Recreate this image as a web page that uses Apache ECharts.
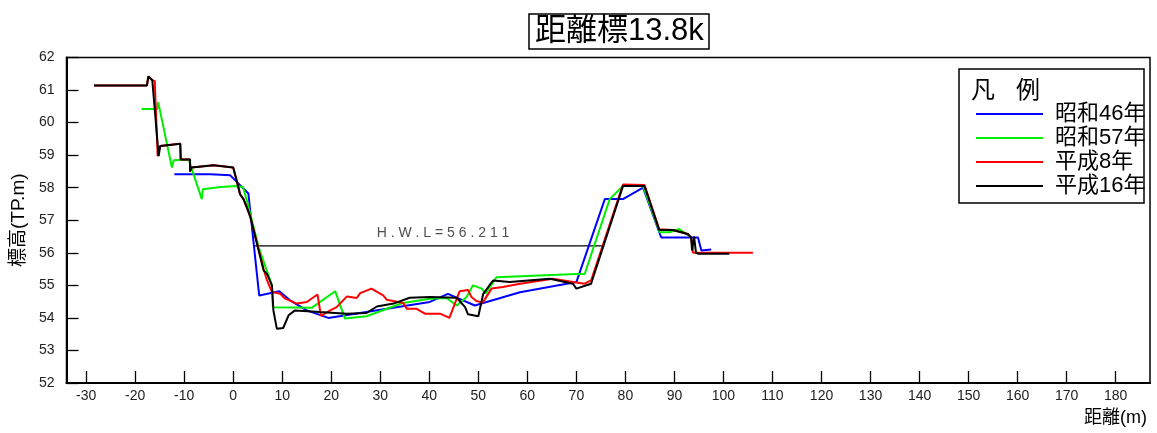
<!DOCTYPE html>
<html><head><meta charset="utf-8">
<script src="https://cdn.jsdelivr.net/npm/echarts@6/dist/echarts.min.js"></script>
<style>html,body{margin:0;padding:0;background:#fff}#c{width:1157px;height:433px}</style>
</head><body><div id="c"></div>
<script>
const seriesNames = ['昭和46年', '昭和57年', '平成8年', '平成16年'];
const seriesColors = ['#0000ff', '#00ee00', '#ff0000', '#000000'];
const xTicks = [-30,-20,-10,0,10,20,30,40,50,60,70,80,90,100,110,120,130,140,150,160,170,180];
const hwlValue = 56.211;
const hwlRange = [4.1, 75.7];
const hwlLabelX = 42.8;

const s46 = [[-12,58.41],[-4.7,58.41],[-0.6,58.38],[3.1,57.82],[5.3,54.69],[9.4,54.82],[11.6,54.54],[15,54.23],[19.4,54.0],[40.1,54.49],[43.8,54.74],[49.3,54.38],[51,54.46],[58.5,54.79],[70,55.1],[75.8,57.65],[79.5,57.65],[83.6,58.0],[87.3,56.47],[94.8,56.47],[95.5,56.07],[97.5,56.1]];
const s57 = [[-18.7,60.42],[-15.5,60.42],[-15.3,60.63],[-12.5,58.62],[-12.15,58.84],[-9.1,58.87],[-6.4,57.65],[-6.2,57.95],[-2.6,58.02],[0.75,58.05],[2.0,58.02],[2.8,57.6],[5.2,56.17],[7.9,55.0],[8.1,54.33],[16,54.31],[20.8,54.82],[22.8,53.98],[27.2,54.05],[34.4,54.45],[40.1,54.59],[43.5,54.61],[45.6,54.38],[47.6,54.64],[48.9,55.0],[50.7,54.9],[51.5,54.75],[53.7,55.25],[70,55.35],[71.7,55.35],[76.8,57.65],[79.5,58.05],[83.6,58.05],[87,56.63],[89,56.63],[91,56.73],[93.4,56.47]];
const sH8 = [[-28.4,61.14],[-17.6,61.14],[-17.3,61.42],[-16.9,61.38],[-16.5,61.3],[-16.0,61.28],[-15.4,58.97],[-14.9,59.28],[-10.8,59.35],[-10.7,58.87],[-8.8,58.87],[-8.8,58.5],[-8.5,58.62],[-4,58.69],[0,58.62],[0.75,58.2],[1.4,57.8],[2.1,57.65],[2.8,57.39],[3.5,57.1],[6.2,55.5],[6.9,55.15],[7.9,54.8],[9.6,54.74],[10.6,54.59],[13,54.44],[15,54.49],[17.2,54.72],[17.9,54.06],[19.8,54.23],[21.1,54.33],[23.2,54.66],[25.2,54.61],[25.9,54.76],[28.2,54.9],[30.6,54.69],[31.3,54.56],[34.7,54.46],[35.4,54.28],[37.4,54.28],[39.1,54.13],[42.2,54.13],[44.1,54.0],[46.2,54.82],[47.9,54.86],[48.6,54.64],[49.6,54.52],[50.9,54.47],[52.7,54.9],[55,54.95],[58.5,55.05],[65.2,55.2],[69.3,55.1],[71.7,55.05],[73,55.15],[79.5,58.1],[83.9,58.08],[86.9,56.72],[89.7,56.7],[92.7,56.58],[93.4,56.47],[93.8,56.0],[95,56.0],[106,56.0]];
const sH16 = [[-28.4,61.14],[-17.6,61.14],[-17.3,61.42],[-16.9,61.38],[-16.5,61.3],[-16.1,61.28],[-15.2,58.97],[-14.9,59.28],[-10.8,59.35],[-10.7,58.87],[-8.8,58.87],[-8.8,58.5],[-8.5,58.62],[-4,58.69],[0,58.62],[0.75,58.2],[1.4,57.8],[2.1,57.65],[2.8,57.39],[3.5,57.1],[6.2,55.46],[6.9,55.35],[7.9,55.0],[8.2,54.23],[8.9,53.67],[10.2,53.69],[11.3,54.08],[12.6,54.23],[17.7,54.18],[23.2,54.13],[27.2,54.15],[29.3,54.35],[32.7,54.44],[36,54.62],[40.1,54.64],[45.6,54.62],[47.3,54.33],[47.9,54.11],[50,54.05],[51,54.74],[53,55.15],[56.4,55.1],[64.6,55.2],[69.3,55.05],[70,54.9],[73,55.05],[79.5,58.05],[83.9,58.05],[86.9,56.7],[89.7,56.7],[92.7,56.58],[93.4,56.47],[93.6,56.07],[94.0,56.5],[94.4,56.0],[94.9,55.97],[101.2,55.97]];
const allData = [s46, s57, sH8, sH16];

const FONT = '"Liberation Sans", "Noto Sans CJK JP", sans-serif';
const chart = echarts.init(document.getElementById('c'), null, {renderer: 'canvas'});

const lineSeries = allData.map((d, i) => ({
  name: seriesNames[i], type: 'line', data: d, symbol: 'none', silent: true,
  lineStyle: {color: seriesColors[i], width: 2}, itemStyle: {color: seriesColors[i]}, z: 3 + i
}));

lineSeries.unshift({
  name: 'HWL', type: 'line', symbol: 'none', silent: true, z: 2,
  lineStyle: {color: '#000', width: 1.3},
  data: [[hwlRange[0], hwlValue], [hwlRange[1], hwlValue]]
});
lineSeries.push({
  name: 'HWLlabel', type: 'scatter', silent: true, z: 10,
  symbol: 'circle', symbolSize: 1, itemStyle: {color: 'rgba(0,0,0,0)'},
  data: [[hwlLabelX, hwlValue]],
  label: {show: true, position: 'top', distance: 5,
    formatter: 'H . W . L = 5 6 . 2 1 1', fontSize: 14, color: '#222', fontFamily: FONT}
});

chart.setOption({
  animation: false,
  backgroundColor: '#fff',
  title: {
    text: '距離標13.8k', left: 529, top: 14,
    borderColor: '#000', borderWidth: 1.5, padding: [2, 5, 2, 6],
    textStyle: {fontSize: 31, fontWeight: 'normal', color: '#000', fontFamily: FONT}
  },
  grid: {left: 66.5, right: 7, top: 57.5, bottom: 50, show: true, borderColor: '#000', borderWidth: 1.5, backgroundColor: 'transparent'},
  legend: {
    data: seriesNames, orient: 'vertical', left: 971, top: 98,
    icon: 'path://M0,0 L100,0 L100,3 L0,3 Z',
    itemWidth: 67, itemHeight: 2.2, itemGap: 2,
    textStyle: {fontSize: 22, color: '#000', fontFamily: FONT, lineHeight: 20, padding: [0, 0, 0, 7]},
    selectedMode: false
  },
  graphic: [
    {type: 'rect', shape: {x: 959, y: 69, width: 185, height: 134}, style: {fill: '#fff', stroke: '#000', lineWidth: 1.5}, z: 0},
    {type: 'text', x: 971, y: 77, style: {text: '凡', font: '24px "Noto Sans CJK JP", sans-serif', fill: '#000'}, z: 1},
    {type: 'text', x: 1016, y: 77, style: {text: '例', font: '24px "Noto Sans CJK JP", sans-serif', fill: '#000'}, z: 1}
  ],
  xAxis: {
    type: 'value', min: -34, max: 187,
    name: '距離(m)', nameLocation: 'end', nameGap: 0,
    nameTextStyle: {fontSize: 18, color: '#000', fontFamily: FONT, align: 'right', verticalAlign: 'top', padding: [26, 3, 0, 0]},
    axisLine: {show: true, onZero: false, lineStyle: {color: '#000', width: 2}},
    axisTick: {show: true, inside: true, length: 12, customValues: xTicks, lineStyle: {color: '#000', width: 1.3}},
    axisLabel: {customValues: xTicks, fontSize: 14, color: '#222', fontFamily: FONT, margin: 6},
    splitLine: {show: false}
  },
  yAxis: {
    type: 'value', min: 52, max: 62, interval: 1,
    name: '標高(TP.m)', nameLocation: 'middle', nameGap: 29, nameRotate: 90,
    nameTextStyle: {fontSize: 19, color: '#000', fontFamily: FONT},
    axisLine: {show: true, onZero: false, lineStyle: {color: '#000', width: 2}},
    axisTick: {show: true, inside: true, length: 12, lineStyle: {color: '#000', width: 1.3}},
    axisLabel: {fontSize: 14, color: '#222', fontFamily: FONT, margin: 12},
    splitLine: {show: false}
  },
  series: lineSeries
});
</script></body></html>
